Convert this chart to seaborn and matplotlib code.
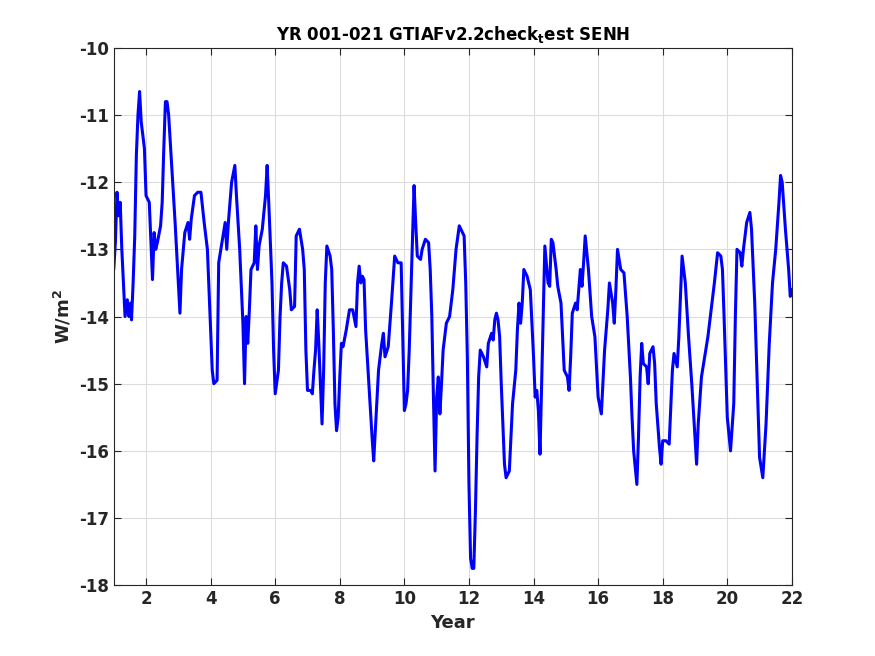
import numpy as np
import pandas as pd
import seaborn as sns
import matplotlib
matplotlib.use("Agg")
import matplotlib.pyplot as plt

year = [
    1.0, 1.05, 1.1, 1.15, 1.2, 1.25, 1.3, 1.35, 1.42, 1.47, 1.52, 1.55, 1.6, 1.65, 1.7, 1.75, 1.8, 1.85, 1.9, 1.95,
    2.0, 2.1, 2.2, 2.25, 2.3, 2.35, 2.45, 2.5, 2.55, 2.6, 2.65, 2.7, 2.8, 2.9,
    3.0, 3.05, 3.1, 3.2, 3.3, 3.35, 3.4, 3.5, 3.6, 3.7, 3.8, 3.9,
    4.0, 4.05, 4.1, 4.2, 4.25, 4.35, 4.45, 4.5, 4.55, 4.65, 4.75, 4.8, 4.9,
    5.0, 5.05, 5.1, 5.15, 5.2, 5.25, 5.35, 5.4, 5.45, 5.5, 5.6, 5.7, 5.75, 5.8, 5.9, 5.95,
    6.0, 6.1, 6.15, 6.2, 6.25, 6.35, 6.45, 6.5, 6.6, 6.65, 6.75, 6.85, 6.9, 6.95,
    7.0, 7.1, 7.15, 7.2, 7.25, 7.3, 7.35, 7.4, 7.45, 7.5, 7.55, 7.6, 7.7, 7.75, 7.8, 7.85, 7.9, 7.95,
    8.0, 8.05, 8.1, 8.2, 8.3, 8.4, 8.5, 8.55, 8.6, 8.65, 8.7, 8.75, 8.8, 8.9,
    9.0, 9.05, 9.1, 9.2, 9.3, 9.35, 9.4, 9.5, 9.6, 9.7, 9.8, 9.9, 9.95,
    10.0, 10.05, 10.1, 10.15, 10.2, 10.3, 10.35, 10.4, 10.5, 10.55, 10.65, 10.75, 10.8, 10.85, 10.9, 10.95,
    11.0, 11.05, 11.1, 11.15, 11.2, 11.3, 11.4, 11.5, 11.6, 11.7, 11.8, 11.85, 11.9, 11.95,
    12.0, 12.05, 12.1, 12.15, 12.2, 12.25, 12.3, 12.35, 12.45, 12.55, 12.6, 12.7, 12.75, 12.8, 12.85, 12.9, 12.95,
    13.0, 13.05, 13.1, 13.15, 13.25, 13.3, 13.35, 13.45, 13.5, 13.55, 13.6, 13.65, 13.7, 13.8, 13.9,
    14.0, 14.05, 14.1, 14.15, 14.2, 14.25, 14.3, 14.35, 14.45, 14.5, 14.55, 14.6, 14.7, 14.75, 14.85, 14.95,
    15.05, 15.1, 15.15, 15.2, 15.3, 15.35, 15.45, 15.5, 15.55, 15.6, 15.7, 15.8, 15.9,
    16.0, 16.1, 16.2, 16.3, 16.35, 16.45, 16.5, 16.55, 16.6, 16.7, 16.8, 16.9,
    17.0, 17.05, 17.1, 17.2, 17.25, 17.3, 17.35, 17.4, 17.5, 17.55, 17.6, 17.7, 17.75, 17.8, 17.9, 17.95,
    18.0, 18.1, 18.2, 18.3, 18.35, 18.45, 18.5, 18.6, 18.7, 18.8, 18.9,
    19.0, 19.05, 19.1, 19.2, 19.3, 19.4, 19.5, 19.6, 19.7, 19.8, 19.85, 19.9,
    20.0, 20.1, 20.2, 20.25, 20.3, 20.4, 20.45, 20.5, 20.6, 20.7, 20.75, 20.85, 20.95,
    21.0, 21.1, 21.2, 21.3, 21.4, 21.5, 21.6, 21.65, 21.7, 21.8, 21.9, 21.95, 22.0,
]

senh = [
    -13.3, -12.9, -12.15, -12.5, -12.3, -13.0, -13.5, -14.0, -13.75, -14.0, -13.8, -14.05, -13.5, -12.8, -11.6, -11.0, -10.65, -11.1, -11.3, -11.5,
    -12.2, -12.3, -13.45, -12.75, -13.0, -12.9, -12.65, -12.3, -11.5, -10.8, -10.8, -11.0, -11.8, -12.6,
    -13.5, -13.95, -13.3, -12.75, -12.6, -12.85, -12.55, -12.2, -12.15, -12.15, -12.6, -13.0,
    -14.2, -14.8, -15.0, -14.95, -13.2, -12.9, -12.6, -13.0, -12.6, -12.0, -11.75, -12.2, -13.0,
    -14.1, -15.0, -14.0, -14.4, -13.9, -13.3, -13.2, -12.65, -13.3, -12.95, -12.7, -12.2, -11.75, -12.3, -13.5, -14.5,
    -15.15, -14.8, -14.0, -13.5, -13.2, -13.25, -13.6, -13.9, -13.85, -12.8, -12.7, -13.0, -13.3, -14.5,
    -15.1, -15.1, -15.15, -14.8, -14.5, -13.9, -14.4, -15.0, -15.6, -14.8, -13.5, -12.95, -13.1, -13.3, -14.2, -15.3, -15.7, -15.5,
    -14.9, -14.4, -14.45, -14.2, -13.9, -13.9, -14.15, -13.5, -13.25, -13.5, -13.4, -13.45, -14.2, -15.0,
    -15.8, -16.15, -15.7, -14.8, -14.4, -14.25, -14.6, -14.45, -13.8, -13.1, -13.2, -13.2, -14.3,
    -15.4, -15.3, -15.1, -14.5, -13.7, -12.05, -12.6, -13.1, -13.15, -13.0, -12.85, -12.9, -13.3, -14.0, -15.2, -16.3,
    -15.2, -14.9, -15.45, -15.0, -14.5, -14.1, -14.0, -13.6, -13.0, -12.65, -12.75, -12.8, -13.5, -14.6,
    -16.5, -17.6, -17.75, -17.75, -16.9, -15.8, -14.9, -14.5, -14.6, -14.75, -14.4, -14.25, -14.35, -14.05, -13.95, -14.05, -14.3,
    -15.0, -15.6, -16.2, -16.4, -16.3, -15.8, -15.3, -14.8, -14.2, -13.8, -14.1, -13.8, -13.3, -13.4, -13.6,
    -14.6, -15.2, -15.1, -15.4, -16.05, -15.0, -13.9, -12.95, -13.5, -13.55, -12.85, -12.9, -13.3, -13.55, -13.8, -14.8,
    -14.9, -15.1, -14.6, -13.95, -13.8, -13.9, -13.3, -13.55, -13.2, -12.8, -13.3, -14.0, -14.3,
    -15.2, -15.45, -14.5, -13.9, -13.5, -13.8, -14.1, -13.6, -13.0, -13.3, -13.35, -14.0,
    -14.9, -15.5, -16.0, -16.5, -15.8, -14.9, -14.4, -14.7, -14.75, -15.0, -14.55, -14.45, -14.7, -15.3, -15.95, -16.2,
    -15.85, -15.85, -15.9, -14.8, -14.55, -14.75, -14.3, -13.1, -13.5, -14.3, -15.0,
    -15.8, -16.2, -15.6, -14.9, -14.6, -14.3, -13.9, -13.5, -13.05, -13.1, -13.3, -14.0,
    -15.5, -16.0, -15.3, -14.0, -13.0, -13.05, -13.25, -13.0, -12.6, -12.45, -12.7, -13.8, -15.3,
    -16.1, -16.4, -15.6, -14.4, -13.5, -13.0, -12.3, -11.9, -12.0, -12.7, -13.3, -13.7, -13.6,
]

df = pd.DataFrame({"Year": year, "SENH": senh})

sns.set_style("ticks")
plt.rcParams["font.family"] = ["DejaVu Sans"]
plt.rcParams["font.weight"] = "bold"
plt.rcParams["axes.unicode_minus"] = False

fig = plt.figure(figsize=(8.75, 6.56), dpi=100)
ax = fig.add_axes([0.13, 0.108, 0.775, 0.819])

sns.lineplot(data=df, x="Year", y="SENH", ax=ax, color="#0000ff", linewidth=2.2, estimator=None)

ax.set_xlim(1, 22)
ax.set_ylim(-18, -10)
ax.set_xticks(range(2, 23, 2))
ax.set_yticks(range(-18, -9, 1))
ax.grid(True, color="#dcdcdc", linewidth=0.8)
ax.set_axisbelow(True)
for s in ax.spines.values():
    s.set_color("#262626")
    s.set_linewidth(0.8)
ax.tick_params(direction="in", length=5, labelsize=12, colors="#262626", top=True, right=True)
for lab in ax.get_xticklabels() + ax.get_yticklabels():
    lab.set_fontweight("bold")

ax.set_xlabel("Year", fontsize=13, fontweight="bold", color="#262626")
ax.set_ylabel("W/m$^\\mathbf{2}$", fontsize=13, fontweight="bold", color="#262626")
ax.set_title("YR 001-021 GTIAFv2.2check$_\\mathbf{t}$est SENH", fontsize=12, fontweight="bold", color="black")

fig.savefig("out.png", dpi=100)
